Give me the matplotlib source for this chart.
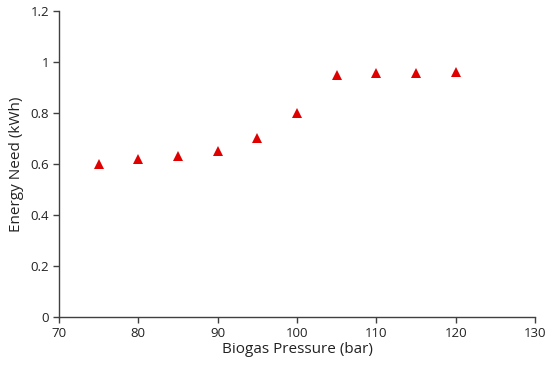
import matplotlib
matplotlib.use("Agg")
import matplotlib.pyplot as plt

pressure = [75, 80, 85, 90, 95, 100, 105, 110, 115, 120]
energy = [0.60, 0.62, 0.63, 0.65, 0.70, 0.80, 0.95, 0.955, 0.955, 0.96]
xticks = [70, 80, 90, 100, 110, 120, 130]
yticks = [0, 0.2, 0.4, 0.6, 0.8, 1.0, 1.2]
yticklabels = ["0", "0.2", "0.4", "0.6", "0.8", "1", "1.2"]

plt.rcParams['font.family'] = ['Open Sans', 'DejaVu Sans']

fig = plt.figure(figsize=(5.5, 3.68), dpi=100)
ax = fig.add_axes([0.107, 0.139, 0.866, 0.831])
ax.plot(pressure, energy, linestyle='none', marker='^', color='#e00000',
        markersize=6.5, markeredgewidth=0)
ax.set_xlim(70, 130)
ax.set_ylim(0, 1.2)
ax.set_xticks(xticks)
ax.set_xticklabels([str(t) for t in xticks])
ax.set_yticks(yticks)
ax.set_yticklabels(yticklabels)
for s in ['top', 'right']:
    ax.spines[s].set_visible(False)
for s in ['left', 'bottom']:
    ax.spines[s].set_color('#404040')
    ax.spines[s].set_linewidth(1.0)
ax.tick_params(direction='out', length=4, width=1, color='#404040',
               labelsize=9.5, labelcolor='#222222', pad=3)
ax.set_xlabel('Biogas Pressure (bar)', fontsize=11, color='#222222', labelpad=2)
ax.set_ylabel('Energy Need (kWh)', fontsize=11, color='#222222', labelpad=5)
fig.savefig('out.png', dpi=100)
